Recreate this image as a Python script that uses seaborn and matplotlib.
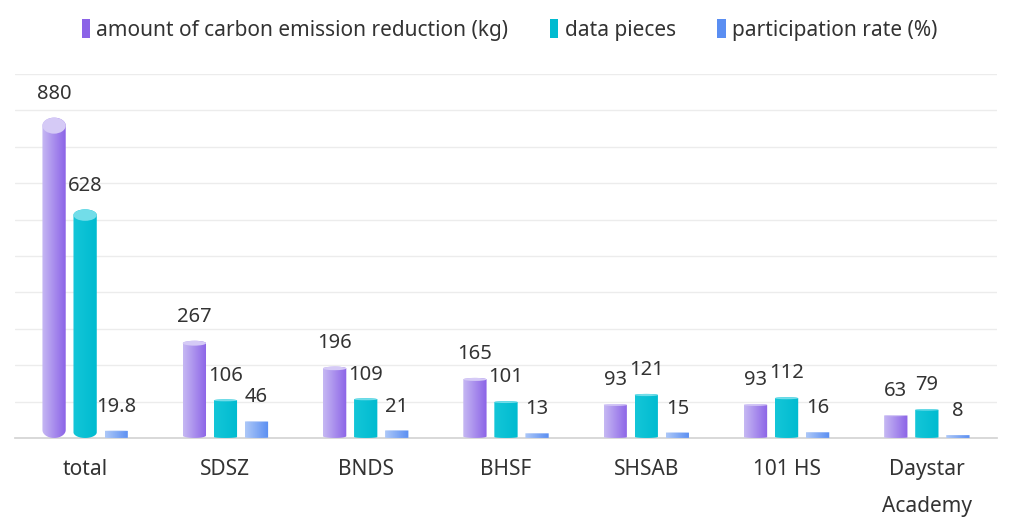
import numpy as np
import pandas as pd
import seaborn as sns
import matplotlib.pyplot as plt
from matplotlib.colors import LinearSegmentedColormap
from matplotlib.patches import Ellipse, Patch, PathPatch
from matplotlib.path import Path

schools = ["total", "SDSZ", "BNDS", "BHSF", "SHSAB", "101 HS", "Daystar\nAcademy"]
carbon = [880, 267, 196, 165, 93, 93, 63]
pieces = [628, 106, 109, 101, 121, 112, 79]
rate = [19.8, 46, 21, 13, 15, 16, 8]
series = ["amount of carbon emission reduction (kg)", "data pieces", "participation rate (%)"]

# left colour, right colour, cylinder top colour
colours = {
    series[0]: ("#c6b8f3", "#8b63e7", "#d5caf6"),
    series[1]: ("#14c6d8", "#00bbd0", "#72dde9"),
    series[2]: ("#adc8f8", "#5a8ef2", "#c4d7fa"),
}

df = pd.DataFrame({
    "school": schools * 3,
    "series": np.repeat(series, len(schools)),
    "value": carbon + pieces + rate,
})

sns.set_theme(style="white")
plt.rcParams["font.family"] = ["Noto Sans", "DejaVu Sans"]
text_col = "#333333"

fig = plt.figure(figsize=(10.19, 5.28), dpi=100)
ax = fig.add_axes([0.0147, 0.1705, 0.9637, 0.6894])

sns.barplot(data=df, x="school", y="value", hue="series", hue_order=series,
            palette=[colours[s][1] for s in series], width=0.664, gap=0.25,
            ax=ax, legend=False)

grad = np.linspace(0, 1, 64).reshape(1, -1)
for cont, s in zip(ax.containers, series):
    left, right, top_c = colours[s]
    cmap = LinearSegmentedColormap.from_list(s, [left, right])
    for bar in cont:
        x0, w, v = bar.get_x(), bar.get_width(), bar.get_height()
        bar.set_visible(False)
        cx, rx = x0 + w / 2, w / 2
        ry = 0.025 * v
        t1 = np.linspace(np.pi, 2 * np.pi, 40)
        t2 = np.linspace(0, np.pi, 40)
        xs = np.concatenate([cx + rx * np.cos(t1), cx + rx * np.cos(t2)])
        ys = np.concatenate([ry + ry * np.sin(t1), v - ry + ry * np.sin(t2)])
        verts = np.column_stack([xs, ys])
        verts = np.vstack([verts, verts[:1]])
        clip = PathPatch(Path(verts, closed=True), facecolor="none", edgecolor="none")
        ax.add_patch(clip)
        im = ax.imshow(grad, cmap=cmap, extent=[x0, x0 + w, 0, v], aspect="auto",
                       zorder=3, interpolation="bicubic")
        im.set_clip_path(clip)
        if ry > 0:
            ax.add_patch(Ellipse((cx, v - ry), w, 2 * ry, facecolor=top_c,
                                 edgecolor="none", zorder=4))
        ax.annotate(f"{v:g}", (cx, v), xytext=(0, 13.5), textcoords="offset points",
                    ha="center", va="baseline", fontsize=14.5, color=text_col)

ax.set_xlim(-0.5, len(schools) - 0.5)
ax.set_ylim(0, 1000)
ax.set_yticks(np.arange(0, 1001, 100))
ax.set_yticklabels([])
ax.yaxis.grid(True, color="#ececec", linewidth=1)
ax.set_axisbelow(True)
for sp in ["left", "right", "top"]:
    ax.spines[sp].set_visible(False)
ax.spines["bottom"].set_color("#d4d4d4")
ax.set_xlabel("")
ax.set_ylabel("")
ax.tick_params(axis="x", length=0, pad=15)
ax.tick_params(axis="y", length=0)
for lab in ax.get_xticklabels():
    lab.set_fontsize(15)
    lab.set_color(text_col)
    lab.set_linespacing(2.0)

handles = [Patch(facecolor=colours[s][1], edgecolor="none") for s in series]
fig.legend(handles, series, loc="center", bbox_to_anchor=(0.5, 0.943), ncol=3,
           frameon=False, fontsize=15, handlelength=0.4, handleheight=1.0,
           handletextpad=0.3, columnspacing=2.0, labelcolor=text_col)

fig.savefig("out.png", dpi=100)
